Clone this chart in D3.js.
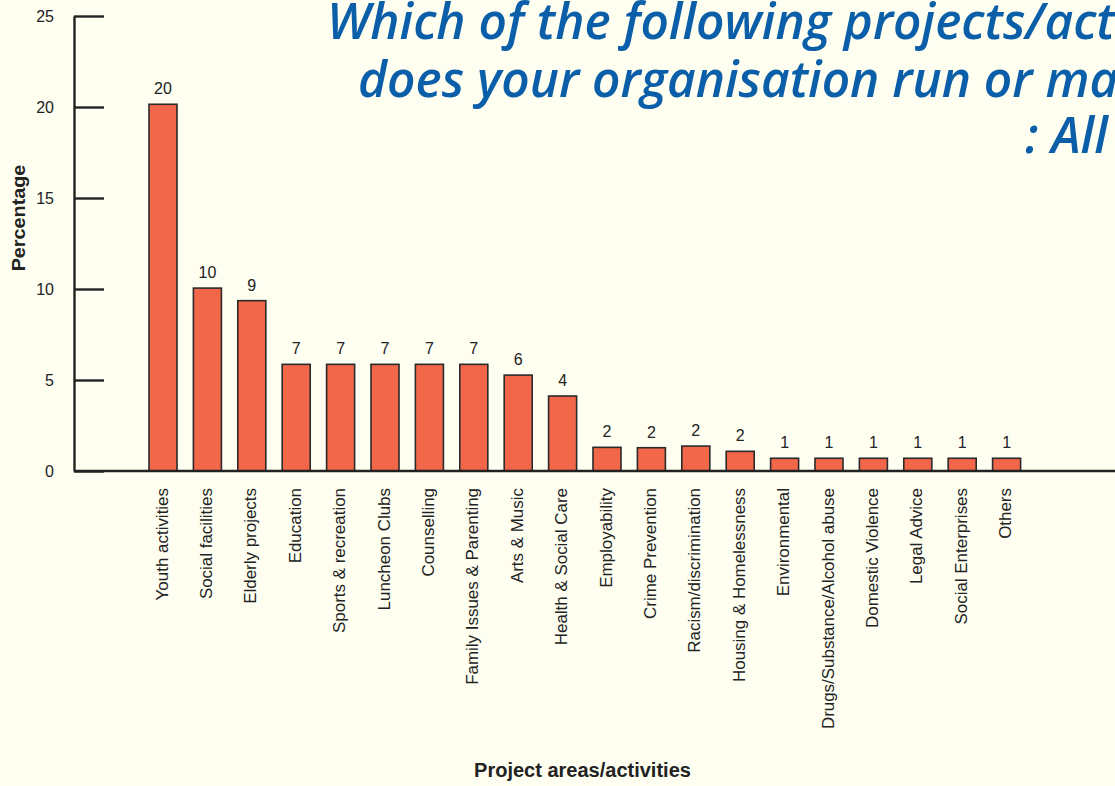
<!DOCTYPE html>
<html>
<head>
  <script src="https://d3js.org/d3.v7.min.js" type="text/javascript"></script>
  <style>
    body { margin: 0; background: #fefef1; }
    svg { display: block; }
  </style>
</head>
<body>
<svg id="chart" width="1115" height="786"></svg>

<script type="text/javascript">
  // project areas, in the order they are drawn
  var categories = ["Youth activities", "Social facilities", "Elderly projects", "Education",
    "Sports & recreation", "Luncheon Clubs", "Counselling", "Family Issues & Parenting",
    "Arts & Music", "Health & Social Care", "Employability", "Crime Prevention",
    "Racism/discrimination", "Housing & Homelessness", "Environmental",
    "Drugs/Substance/Alcohol abuse", "Domestic Violence", "Legal Advice",
    "Social Enterprises", "Others"];

  // bar heights as drawn (percentage)
  var values = [20.15, 10.05, 9.36, 5.86, 5.86, 5.86, 5.86, 5.86, 5.27, 4.12,
    1.3, 1.28, 1.37, 1.08, 0.7, 0.7, 0.7, 0.7, 0.7, 0.7];

  // rounded numbers printed over the bars
  var valueLabels = [20, 10, 9, 7, 7, 7, 7, 7, 6, 4, 2, 2, 2, 2, 1, 1, 1, 1, 1, 1];

  var yTicks = [0, 5, 10, 15, 20, 25];

  var titleLines = ["Which of the following projects/activities",
    "does your organisation run or manage?",
    ": All"];

  var svg = d3.select("#chart");

  svg.append("rect")
    .attr("width", 1115).attr("height", 786)
    .attr("fill", "#fefef1");

  var y = d3.scaleLinear().domain([0, 25]).range([471, 16]);
  var x = d3.scaleBand()
    .domain(categories)
    .range([149, 1020.6])
    .paddingInner(0.369)
    .paddingOuter(0);

  var ink = "#222";
  var font = "'Liberation Sans', Arial, sans-serif";

  // title: condensed italic, squeezed to the width seen in the picture
  var title = svg.append("g").attr("class", "title");
  var titlePos = [[327, 39], [358, 96.5], [1025, 153]];
  var tl = title.selectAll("text")
    .data(titleLines)
    .enter().append("text")
    .attr("font-family", "'Open Sans', sans-serif")
    .attr("font-weight", 600)
    .attr("font-style", "italic")
    .attr("font-size", 50)
    .attr("fill", "#0b5ea8")
    .text(function(d) { return d; });
  var firstLen = tl.node().getSubStringLength(0, 35);
  var squeeze = 788 / firstLen;
  tl.attr("transform", function(d, i) {
    return "translate(" + titlePos[i][0] + "," + titlePos[i][1] + ") scale(" + squeeze + ",1)";
  });

  // bars
  svg.append("g")
    .attr("class", "bars")
    .selectAll("rect")
    .data(values)
    .enter().append("rect")
    .attr("x", function(d, i) { return x(categories[i]); })
    .attr("y", function(d) { return y(d); })
    .attr("width", x.bandwidth())
    .attr("height", function(d) { return y(0) - y(d); })
    .attr("fill", "#f2674a")
    .attr("stroke", "#2a2a2a")
    .attr("stroke-width", 1.6);

  // value labels
  svg.append("g")
    .attr("class", "values")
    .selectAll("text")
    .data(valueLabels)
    .enter().append("text")
    .attr("x", function(d, i) { return x(categories[i]) + x.bandwidth() / 2; })
    .attr("y", function(d, i) { return y(values[i]) - 10; })
    .attr("text-anchor", "middle")
    .attr("font-family", font)
    .attr("font-size", 16)
    .attr("fill", ink)
    .text(function(d) { return d; });

  // y axis, ticks pointing into the plot
  var yAxis = svg.append("g")
    .attr("transform", "translate(74,0)")
    .call(d3.axisLeft(y).tickValues(yTicks).tickSizeInner(-30).tickSizeOuter(0).tickPadding(20));
  yAxis.select(".domain").attr("stroke", ink).attr("stroke-width", 2.4);
  yAxis.selectAll(".tick line").attr("stroke", ink).attr("stroke-width", 2.4);
  yAxis.selectAll(".tick text")
    .attr("font-family", font)
    .attr("font-size", 16)
    .attr("fill", ink);

  // x axis line, runs off the right edge
  svg.append("line")
    .attr("x1", 74).attr("x2", 1115)
    .attr("y1", y(0)).attr("y2", y(0))
    .attr("stroke", ink)
    .attr("stroke-width", 2.6);

  // category labels, vertical
  svg.append("g")
    .attr("class", "cats")
    .selectAll("text")
    .data(categories)
    .enter().append("text")
    .attr("transform", function(d) {
      return "translate(" + (x(d) + x.bandwidth() / 2 - 1) + ",488) rotate(-90) scale(1.06,1)";
    })
    .attr("dy", "0.35em")
    .attr("text-anchor", "end")
    .attr("font-family", font)
    .attr("font-size", 16)
    .attr("fill", ink)
    .text(function(d) { return d; });

  // axis titles
  svg.append("text")
    .attr("transform", "translate(19,218) rotate(-90) scale(1.1,1)")
    .attr("dy", "0.35em")
    .attr("text-anchor", "middle")
    .attr("font-family", font)
    .attr("font-weight", "bold")
    .attr("font-size", 18)
    .attr("fill", ink)
    .text("Percentage");

  svg.append("text")
    .attr("x", 582.5)
    .attr("y", 777)
    .attr("text-anchor", "middle")
    .attr("font-family", font)
    .attr("font-weight", "bold")
    .attr("font-size", 20)
    .attr("fill", ink)
    .text("Project areas/activities");
</script>
</body>
</html>
